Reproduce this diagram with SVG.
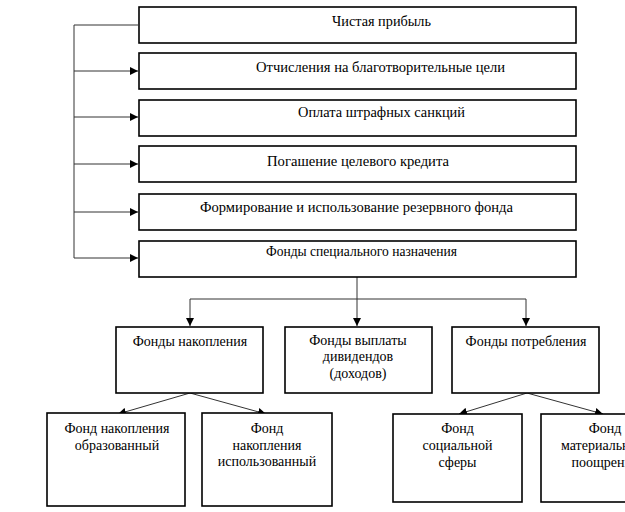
<svg xmlns="http://www.w3.org/2000/svg" width="625" height="512" viewBox="0 0 625 512">
<defs>
<marker id="ah" markerUnits="userSpaceOnUse" markerWidth="9" markerHeight="8" refX="8" refY="4" orient="auto">
<path d="M0,0 L8,4 L0,8 Z" fill="#000"/>
</marker>
<style>
.box{fill:#fff;stroke:#000;stroke-width:1.6}
text{font-family:"Times New Roman","Liberation Serif","DejaVu Serif",serif;font-size:14px;fill:#000;text-anchor:middle}
.c{fill:none;stroke:#333;stroke-width:1}
.ca{fill:none;stroke:#333;stroke-width:1;marker-end:url(#ah)}
</style>
</defs>
<rect width="625" height="512" fill="#fff"/>
<g id="connectors">
<path class="c" d="M138,25 H74 V258"/>
<path class="ca" d="M74,71 H138"/>
<path class="ca" d="M74,117 H138"/>
<path class="ca" d="M74,164 H138"/>
<path class="ca" d="M74,212 H138"/>
<path class="ca" d="M74,258 H138"/>
<path class="ca" d="M357,277 V326"/>
<path class="c" d="M190,299 H526"/>
<path class="ca" d="M190,299 V326"/>
<path class="ca" d="M526,299 V326"/>
<path class="ca" d="M190,393 L118,414"/>
<path class="ca" d="M190,393 L266,414"/>
<path class="ca" d="M527,393 L459,414"/>
<path class="ca" d="M527,393 L603,414"/>
</g>
<g id="n1"><rect class="box" x="139" y="7" width="437" height="36"/><text x="381.5" y="26" textLength="99" lengthAdjust="spacingAndGlyphs">Чистая прибыль</text></g>
<g id="n2"><rect class="box" x="139" y="53" width="437" height="36"/><text x="380.5" y="72" textLength="249" lengthAdjust="spacingAndGlyphs">Отчисления на благотворительные цели</text></g>
<g id="n3"><rect class="box" x="139" y="100" width="437" height="36"/><text x="381.5" y="117" textLength="167" lengthAdjust="spacingAndGlyphs">Оплата штрафных санкций</text></g>
<g id="n4"><rect class="box" x="139" y="146" width="437" height="36"/><text x="358" y="166" textLength="182" lengthAdjust="spacingAndGlyphs">Погашение целевого кредита</text></g>
<g id="n5"><rect class="box" x="139" y="194" width="437" height="36"/><text x="356.5" y="212" textLength="313" lengthAdjust="spacingAndGlyphs">Формирование и использование резервного фонда</text></g>
<g id="n6"><rect class="box" x="139" y="241" width="437" height="36"/><text x="361.5" y="256" textLength="191" lengthAdjust="spacingAndGlyphs">Фонды специального назначения</text></g>
<g id="n7"><rect class="box" x="116" y="327" width="147" height="66"/><text x="190" y="346">Фонды накопления</text></g>
<g id="n8"><rect class="box" x="285" y="327" width="147" height="66"/><text x="358" y="345">Фонды выплаты</text><text x="358" y="361">дивидендов</text><text x="358" y="378">(доходов)</text></g>
<g id="n9"><rect class="box" x="452" y="327" width="147" height="66"/><text x="526" y="346">Фонды потребления</text></g>
<g id="n10"><rect class="box" x="47" y="413" width="138" height="93"/><text x="117" y="433">Фонд накопления</text><text x="117" y="450">образованный</text></g>
<g id="n11"><rect class="box" x="202" y="413" width="130" height="93"/><text x="267" y="433">Фонд</text><text x="267" y="450">накопления</text><text x="267" y="466">использованный</text></g>
<g id="n12"><rect class="box" x="393" y="414" width="129" height="88"/><text x="457.5" y="433">Фонд</text><text x="457.5" y="450">социальной</text><text x="457.5" y="467">сферы</text></g>
<g id="n13"><rect class="box" x="541" y="414" width="129" height="88"/><text x="605" y="433">Фонд</text><text x="605" y="450">материального</text><text x="605" y="467">поощрения</text></g>
</svg>
